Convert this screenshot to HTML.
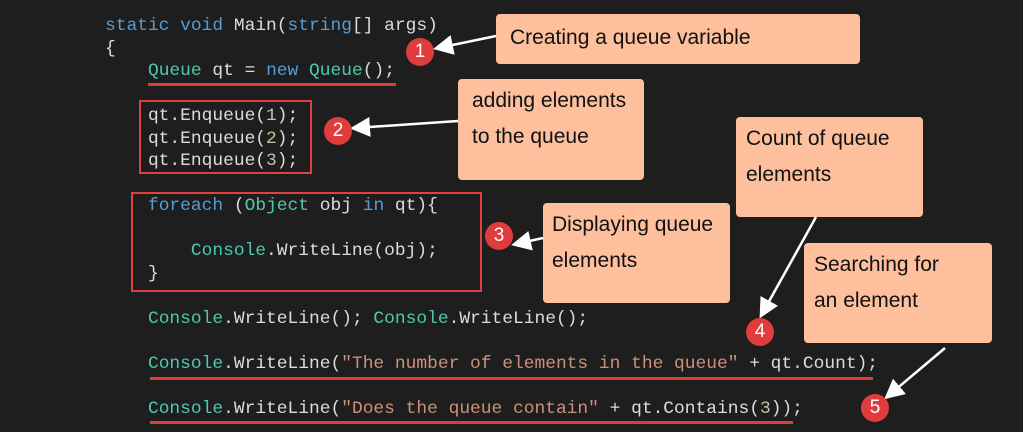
<!DOCTYPE html>
<html><head><meta charset="utf-8"><style>
body{margin:0;width:1023px;height:432px;background:#1e1e1e;overflow:hidden;position:relative}
.c{position:absolute;font-family:"Liberation Mono",monospace;font-size:17.9px;color:#dcdcdc;white-space:pre;line-height:22.5px}
.k{color:#569cd6}.t{color:#4ec9b0}.s{color:#ce9178}.n{color:#b5cea8}
.b{position:absolute;background:#fdbf9c;border-radius:4px;font-family:"Liberation Sans Narrow","Liberation Sans",sans-serif;font-size:21px;color:#111;line-height:36px;padding:4px 0 0 14px;box-sizing:border-box}
.r{position:absolute;border:2px solid #e04040}
.u{position:absolute;height:3px;background:#e03c3c}
.o{position:absolute;width:28px;height:28px;border-radius:50%;background:#e03c3c;color:#fff;font-family:"Liberation Sans",sans-serif;font-size:19px;text-align:center;line-height:28px}
</style></head><body>
<div class="c" style="left:105px;top:15px"><span class="k">static void</span> Main(<span class="k">string</span>[] args)
{
    <span class="t">Queue</span> qt = <span class="k">new</span> <span class="t">Queue</span>();

    qt.Enqueue(<span class="n">1</span>);
    qt.Enqueue(<span class="n">2</span>);
    qt.Enqueue(<span class="n">3</span>);

    <span class="k">foreach</span> (<span class="t">Object</span> obj <span class="k">in</span> qt){

        <span class="t">Console</span>.WriteLine(obj);
    }

    <span class="t">Console</span>.WriteLine(); <span class="t">Console</span>.WriteLine();

    <span class="t">Console</span>.WriteLine(<span class="s">"The number of elements in the queue"</span> + qt.Count);

    <span class="t">Console</span>.WriteLine(<span class="s">"Does the queue contain"</span> + qt.Contains(<span class="n">3</span>));</div>
<div class="u" style="left:148px;top:83px;width:248px"></div>
<div class="u" style="left:150px;top:377px;width:723px"></div>
<div class="u" style="left:150px;top:421px;width:643px"></div>
<div class="r" style="left:139px;top:100px;width:169px;height:70px"></div>
<div class="r" style="left:131px;top:192px;width:347px;height:96px"></div>
<div class="b" style="left:496px;top:14px;width:364px;height:50px;padding-top:6px">Creating a queue variable</div>
<div class="b" style="left:458px;top:79px;width:186px;height:101px">adding elements<br>to the queue</div>
<div class="b" style="left:736px;top:117px;width:187px;height:100px;padding-left:10px">Count of queue<br>elements</div>
<div class="b" style="left:543px;top:203px;width:187px;height:100px;padding-left:9px">Displaying queue<br>elements</div>
<div class="b" style="left:804px;top:243px;width:188px;height:100px;padding-left:10px">Searching for<br>an element</div>
<svg style="position:absolute;left:0;top:0" width="1023" height="432">
<defs><marker id="a" markerWidth="8" markerHeight="8" refX="6" refY="4" orient="auto"><path d="M0,0L8,4L0,8z" fill="#fff"/></marker></defs>
<g stroke="#fff" stroke-width="2.5" fill="none" marker-end="url(#a)">
<line x1="496" y1="36" x2="438" y2="48"/>
<line x1="458" y1="121" x2="355" y2="128"/>
<line x1="543" y1="238" x2="516" y2="244"/>
<line x1="816" y1="217" x2="762" y2="314"/>
<line x1="945" y1="348" x2="888" y2="396"/>
</g></svg>
<div class="o" style="left:406px;top:38px">1</div>
<div class="o" style="left:324px;top:117px">2</div>
<div class="o" style="left:485px;top:222px">3</div>
<div class="o" style="left:746px;top:318px">4</div>
<div class="o" style="left:861px;top:394px">5</div>
</body></html>
